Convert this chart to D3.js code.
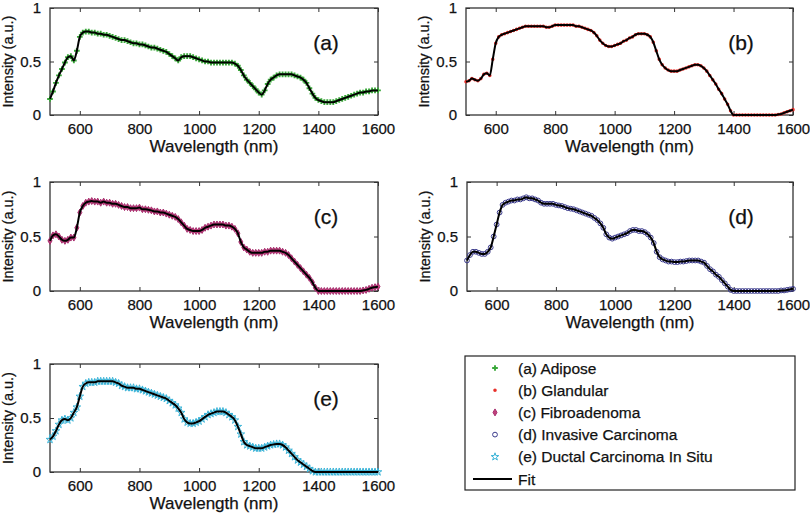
<!DOCTYPE html>
<html>
<head>
<meta charset="utf-8">
<script src="https://cdn.jsdelivr.net/npm/d3@7"></script>
<style>
  body { margin: 0; background: #fff; }
  svg text { font-family: "Liberation Sans", Arial, sans-serif; fill: #111; stroke: #111; stroke-width: 0.25px; }
</style>
</head>
<body>
<svg id="chart" width="810" height="515"></svg>
<script>
// wavelength grid (nm)
const wavelengths = [500,510,520,530,540,550,560,570,580,590,600,610,620,630,640,650,660,670,680,690,
  700,710,720,730,740,750,760,770,780,790,800,810,820,830,840,850,860,870,880,890,
  900,910,920,930,940,950,960,970,980,990,1000,1010,1020,1030,1040,1050,1060,1070,1080,1090,
  1100,1110,1120,1130,1140,1150,1160,1170,1180,1190,1200,1210,1220,1230,1240,1250,1260,1270,1280,1290,
  1300,1310,1320,1330,1340,1350,1360,1370,1380,1390,1400,1410,1420,1430,1440,1450,1460,1470,1480,1490,
  1500,1510,1520,1530,1540,1550,1560,1570,1580,1590,1600];

const adipose = [.15,.22,.30,.37,.43,.49,.54,.55,.51,.60,.73,.77,.78,.78,.77,.77,.76,.76,.75,.75,
  .74,.73,.72,.71,.70,.70,.69,.68,.67,.67,.66,.66,.65,.64,.63,.63,.62,.61,.60,.59,
  .57,.55,.53,.51,.54,.55,.55,.55,.54,.53,.52,.51,.50,.50,.49,.49,.49,.49,.49,.49,
  .49,.49,.48,.46,.42,.37,.33,.30,.27,.24,.21,.19,.23,.29,.33,.35,.37,.38,.38,.38,
  .38,.38,.37,.36,.35,.33,.30,.25,.20,.16,.14,.13,.12,.12,.12,.12,.13,.14,.15,.16,
  .17,.18,.19,.20,.21,.21,.22,.22,.23,.23,.23];

const glandular = [.31,.32,.34,.33,.32,.34,.38,.39,.37,.52,.67,.73,.75,.76,.77,.78,.79,.80,.81,.82,
  .83,.83,.83,.83,.83,.83,.83,.82,.82,.83,.84,.84,.84,.84,.84,.84,.84,.83,.83,.82,
  .81,.80,.79,.77,.74,.70,.67,.65,.64,.64,.65,.66,.67,.69,.70,.72,.73,.75,.76,.76,
  .76,.75,.73,.68,.60,.52,.47,.44,.42,.41,.41,.41,.42,.43,.44,.45,.46,.47,.47,.46,
  .44,.41,.37,.33,.29,.24,.20,.15,.10,.04,0,0,0,0,0,0,0,0,0,0,
  0,0,0,0,0,.005,.01,.02,.03,.04,.05];

const fibroadenoma = [.46,.51,.52,.50,.47,.46,.47,.49,.49,.58,.72,.78,.81,.82,.825,.82,.82,.81,.82,.81,
  .81,.80,.80,.79,.78,.77,.77,.76,.76,.76,.765,.75,.75,.745,.74,.73,.73,.72,.72,.71,
  .70,.69,.68,.66,.63,.60,.57,.56,.55,.55,.55,.56,.58,.59,.60,.61,.61,.61,.61,.60,
  .60,.59,.57,.53,.45,.40,.38,.36,.35,.35,.35,.35,.36,.36,.37,.37,.37,.37,.36,.35,
  .33,.30,.27,.24,.21,.18,.15,.12,.08,.03,0,0,0,0,0,0,0,0,0,0,
  0,0,0,0,0,.005,.01,.02,.03,.035,.04];

const invasive = [.28,.33,.36,.36,.35,.34,.34,.36,.40,.50,.61,.72,.79,.81,.82,.83,.83,.84,.84,.85,
  .86,.85,.85,.84,.83,.81,.80,.80,.80,.80,.79,.785,.78,.77,.76,.755,.75,.74,.73,.72,
  .71,.70,.69,.67,.65,.62,.58,.52,.49,.48,.49,.50,.51,.52,.53,.55,.56,.56,.55,.55,
  .54,.52,.49,.44,.36,.31,.29,.28,.27,.27,.265,.265,.27,.27,.275,.28,.28,.28,.28,.27,
  .26,.23,.20,.18,.15,.13,.10,.07,.04,.01,0,0,0,0,0,0,0,0,0,0,
  0,0,0,0,0,0,.005,.005,.01,.015,.02];

const dcis = [.30,.33,.38,.44,.48,.49,.48,.50,.55,.60,.70,.79,.82,.83,.83,.83,.84,.84,.84,.84,
  .84,.84,.83,.82,.80,.79,.78,.78,.78,.77,.77,.76,.75,.74,.73,.72,.71,.70,.69,.68,
  .66,.64,.62,.59,.55,.49,.46,.45,.45,.46,.47,.49,.51,.53,.54,.55,.56,.56,.56,.55,
  .53,.51,.48,.42,.35,.28,.25,.24,.23,.22,.22,.22,.23,.24,.25,.255,.26,.26,.25,.23,
  .20,.17,.14,.11,.09,.07,.05,.03,.01,0,0,0,0,0,0,0,0,0,0,0,
  0,0,0,0,0,0,0,0,0,0,0];

const xTicks = [600, 800, 1000, 1200, 1400, 1600];
const yTicks = [0, 0.5, 1];
const panelTags = ["(a)", "(b)", "(c)", "(d)", "(e)"];
const legendLabels = ["(a) Adipose", "(b) Glandular", "(c) Fibroadenoma",
  "(d) Invasive Carcinoma", "(e) Ductal Carcinoma In Situ"];

const series = [adipose, glandular, fibroadenoma, invasive, dcis];

// panel boxes [left, top, right, bottom]
const boxes = [
  [50, 8, 378, 115],
  [466, 8, 793, 115],
  [50, 182, 378, 291],
  [467, 182, 793, 291],
  [50, 364, 378, 472]
];

const markerStyles = [
  {type: d3.symbolCross, size: 18, fill: "#3aa83a", stroke: "none"},
  {type: d3.symbolCircle, size: 10, fill: "#e8302a", stroke: "none"},
  {type: d3.symbolDiamond, size: 14, fill: "#c0407a", stroke: "#a83070"},
  {type: d3.symbolCircle, size: 18, fill: "none", stroke: "#3a3a8c"},
  {type: d3.symbolStar, size: 18, fill: "none", stroke: "#3ab4d8"}
];

const svg = d3.select("#chart");

series.forEach((vals, i) => {
  const [l, t, r, b] = boxes[i];
  const x = d3.scaleLinear().domain([500, 1600]).range([l, r]);
  const y = d3.scaleLinear().domain([0, 1]).range([b, t]);
  const g = svg.append("g");
  const pts = wavelengths.map((w, k) => ({w: w, v: vals[k]}));

  g.append("rect").attr("x", l).attr("y", t).attr("width", r - l).attr("height", b - t)
    .attr("fill", "#fff").attr("stroke", "#333").attr("stroke-width", 1.3);

  // inward ticks all four sides
  const ax = (gen, tr) => g.append("g").attr("transform", tr).call(gen)
    .call(s => s.select(".domain").remove())
    .call(s => s.selectAll("line").attr("stroke", "#333"));

  ax(d3.axisBottom(x).tickValues(xTicks).tickSizeInner(-4).tickSizeOuter(0).tickPadding(8)
      .tickFormat(d3.format("d")), `translate(0,${b})`)
    .selectAll("text").style("font-size", "15px");
  ax(d3.axisTop(x).tickValues(xTicks).tickSizeInner(-4).tickSizeOuter(0).tickFormat(""), `translate(0,${t})`);
  ax(d3.axisLeft(y).tickValues(yTicks).tickSizeInner(-4).tickSizeOuter(0).tickPadding(9)
      .tickFormat(d => d === 0.5 ? "0.5" : d3.format("d")(d)), `translate(${l},0)`)
    .selectAll("text").style("font-size", "15px");
  ax(d3.axisRight(y).tickValues(yTicks).tickSizeInner(-4).tickSizeOuter(0).tickFormat(""), `translate(${r},0)`);

  const ms = markerStyles[i];
  const sym = d3.symbol().type(ms.type).size(ms.size);
  g.append("g").selectAll("path").data(pts).join("path")
    .attr("transform", d => `translate(${x(d.w)},${y(d.v)})`)
    .attr("d", sym)
    .attr("fill", ms.fill).attr("stroke", ms.stroke).attr("stroke-width", 1);

  const line = d3.line().x(d => x(d.w)).y(d => y(d.v)).curve(d3.curveMonotoneX);
  g.append("path").datum(pts).attr("d", line)
    .attr("fill", "none").attr("stroke", "#000").attr("stroke-width", 2);

  g.append("text").attr("x", (l + r) / 2).attr("y", b + 37).attr("text-anchor", "middle")
    .style("font-size", "17px").text("Wavelength (nm)");
  g.append("text").attr("transform", `translate(${l - 37},${(t + b) / 2}) rotate(-90)`)
    .attr("text-anchor", "middle").style("font-size", "14.5px").text("Intensity (a.u.)");
  g.append("text").attr("x", r - 52).attr("y", t + 42).attr("text-anchor", "middle")
    .style("font-size", "21px").text(panelTags[i]);
});

// legend
const lg = svg.append("g");
lg.append("rect").attr("x", 465).attr("y", 356).attr("width", 330).attr("height", 134)
  .attr("fill", "#fff").attr("stroke", "#222").attr("stroke-width", 1.2);
const rowY = d3.scaleLinear().domain([0, 5]).range([368, 479]);
legendLabels.concat(["Fit"]).forEach((lab, i) => {
  const cy = rowY(i);
  if (i < 5) {
    const ms = markerStyles[i];
    lg.append("path").attr("transform", `translate(495,${cy})`)
      .attr("d", d3.symbol().type(ms.type).size(ms.size)())
      .attr("fill", ms.fill).attr("stroke", ms.stroke).attr("stroke-width", 1);
  } else {
    lg.append("line").attr("x1", 473).attr("x2", 512).attr("y1", cy).attr("y2", cy)
      .attr("stroke", "#000").attr("stroke-width", 1.8);
  }
  lg.append("text").attr("x", 518).attr("y", cy + 5.5).style("font-size", "15.5px").text(lab);
});
</script>
</body>
</html>
